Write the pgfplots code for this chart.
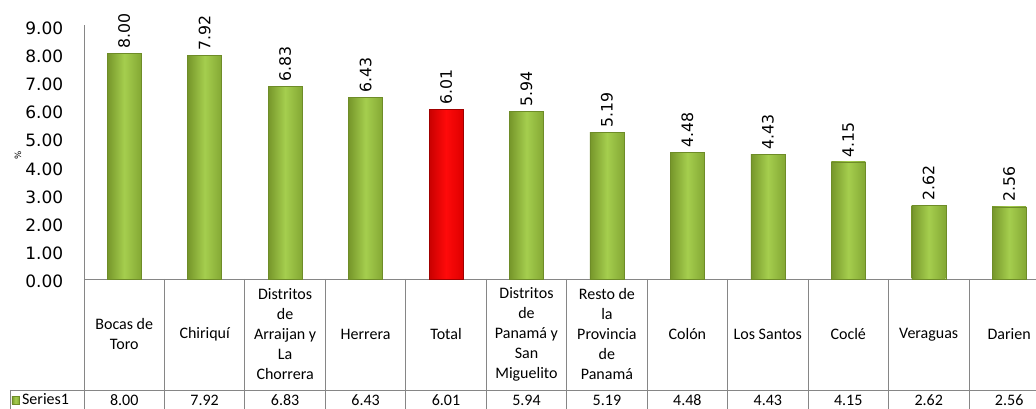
\documentclass[border=0pt]{standalone}
\usepackage{fontspec}
\setmainfont{Carlito}
\newfontfamily\dejavu{DejaVu Sans}
\usepackage{pgfplots}
\usepackage{pgfplotstable}
\pgfplotsset{compat=1.18}
\definecolor{gridgray}{RGB}{134,134,134}
\definecolor{gleft}{RGB}{118,150,42}
\definecolor{gmid}{RGB}{165,206,78}
\definecolor{gright}{RGB}{132,168,52}
\definecolor{gedge}{RGB}{110,140,40}
\definecolor{rleft}{RGB}{200,0,0}
\definecolor{rmid}{RGB}{255,10,10}
\definecolor{rright}{RGB}{222,0,0}

\pgfplotstableread{
x v
0 8.00
1 7.92
2 6.83
3 6.43
4 6.01
5 5.94
6 5.19
7 4.48
8 4.43
9 4.15
10 2.62
11 2.56
}\alldata

\pgfplotsset{
  valnum/.style={nodes near coords={\pgfmathprintnumber[fixed,fixed zerofill,precision=2,assume math mode=true]{\pgfplotspointmeta}}},
  barlabel/.style={valnum, nodes near coords style={rotate=90, anchor=west, inner sep=3.5pt, font=\dejavu\fontsize{11.8}{12}\selectfont, text=black}},
  greenbar/.style={ybar, bar width=25.5pt, bar shift=0pt, draw=gedge, line width=0.3pt,
    left color=gleft, right color=gright, middle color=gmid, barlabel},
  redbar/.style={ybar, bar width=25.5pt, bar shift=0pt, draw=rleft!80!black, line width=0.3pt,
    left color=rleft, right color=rright, middle color=rmid, barlabel},
}

\begin{document}
\begin{tikzpicture}
\begin{axis}[
  at={(0,0)}, anchor=south west,
  scale only axis,
  width=724.05pt, height=190.35pt,
  xmin=-0.5, xmax=11.5,
  ymin=0, ymax=9,
  clip=false,
  axis lines=left,
  axis line style={draw=gridgray, line width=0.6pt, -},
  major tick length=0pt,
  ytick={0,1,...,9},
  yticklabel style={font=\dejavu\fontsize{12.75}{14}\selectfont, anchor=east, xshift=-12pt, yshift=-2pt,
    /pgf/number format/.cd, fixed, fixed zerofill, precision=2, assume math mode=true},
  xtick={0,...,11},
  xticklabels={{Bocas de\\Toro},{Chiriquí},{Distritos\\de\\Arraijan y\\La\\Chorrera},{Herrera},{Total},{Distritos\\de\\Panamá y\\San\\Miguelito},{Resto de\\la\\Provincia\\de\\Panamá},{Colón},{Los Santos},{Coclé},{Veraguas},{Darien}},
  xticklabel style={font=\fontsize{12}{15}\selectfont, align=center, anchor=center, yshift=-41.6pt},
  ylabel={\%},
  ylabel style={at={(axis description cs:-0.06836,0.4886)}, anchor=center, font=\dejavu\fontsize{6.5}{7}\selectfont},
  legend style={at={(axis description cs:-0.07665,-0.4768)}, anchor=west, draw=none, fill=none, inner sep=1pt,
    font=\fontsize{12}{14}\selectfont, legend cell align=left},
]
\addplot[greenbar, x filter/.expression={abs(x-0)<0.01 ? x : nan},
  legend image code/.code={\shade[left color=gleft, right color=gright, middle color=gmid] (0pt,-2.8pt) rectangle (5.6pt,2.8pt);}
] table[x=x, y=v] {\alldata};
\addlegendentry{Series1}
\pgfplotsinvokeforeach{1,2,3,5,6,7,8,9,10,11}{
  \addplot[greenbar, forget plot, x filter/.expression={abs(x-#1)<0.01 ? x : nan}] table[x=x, y=v] {\alldata};
}
\addplot[redbar, forget plot, x filter/.expression={abs(x-4)<0.01 ? x : nan}] table[x=x, y=v] {\alldata};
\addplot[draw=none, mark=none, forget plot,
  point meta=explicit, valnum,
  nodes near coords style={anchor=center, inner sep=0pt, font=\fontsize{12}{14}\selectfont, text=black}
] table[x=x, y expr=-4.2908, meta=v] {\alldata};
% table grid
\pgfplotsinvokeforeach{-0.5,0.5,1.5,2.5,3.5,4.5,5.5,6.5,7.5,8.5,9.5,10.5,11.5}{
  \draw[gridgray, line width=0.6pt] (axis cs:#1,0) -- ++(0pt,-100pt);
}
\draw[gridgray, line width=0.6pt] (axis cs:-0.5,0) ++(-55.5pt,-83.25pt) -- ++(800pt,0pt);
\draw[gridgray, line width=0.6pt] (axis cs:-0.5,0) ++(-55.5pt,-83.25pt) -- ++(0pt,-20pt);
\end{axis}
\pgfresetboundingbox
\path[use as bounding box] (-63pt,-97.5pt) rectangle (714pt,209.25pt);
\end{tikzpicture}
\end{document}
